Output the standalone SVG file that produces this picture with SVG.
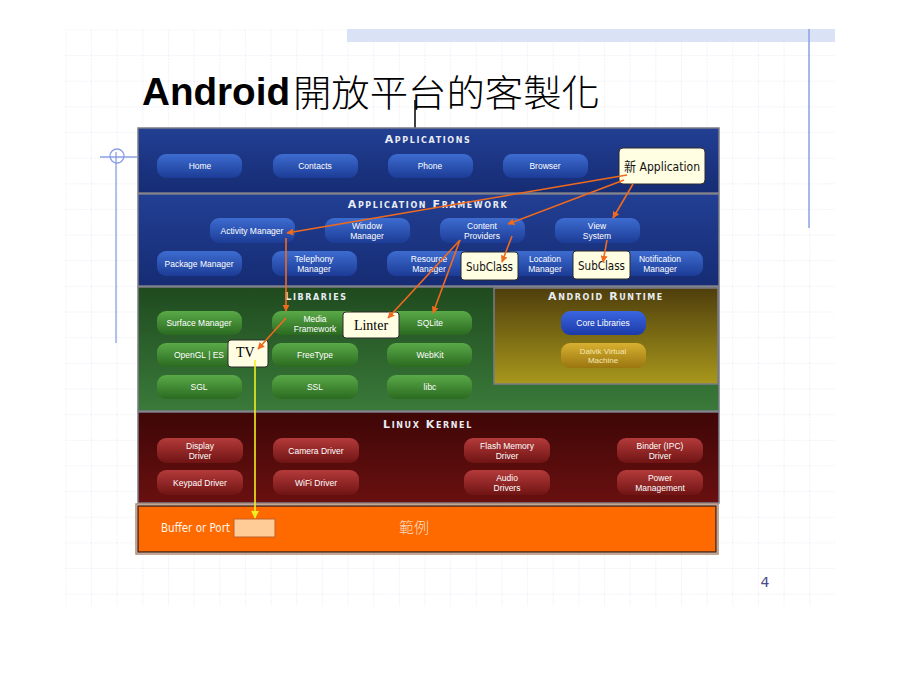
<svg xmlns="http://www.w3.org/2000/svg" width="900" height="675" viewBox="0 0 900 675">
<defs>
<linearGradient id="gBlueLayer" x1="0" y1="0" x2="0" y2="1"><stop offset="0" stop-color="#223f93"/><stop offset="1" stop-color="#162c74"/></linearGradient>
<linearGradient id="gGreenLayer" x1="0" y1="0" x2="0" y2="1"><stop offset="0" stop-color="#1f4a1f"/><stop offset="1" stop-color="#3a7a3a"/></linearGradient>
<linearGradient id="gOlive" x1="0" y1="0" x2="0" y2="1"><stop offset="0" stop-color="#4e3e0c"/><stop offset="1" stop-color="#a8981c"/></linearGradient>
<linearGradient id="gRedLayer" x1="0" y1="0" x2="0" y2="1"><stop offset="0" stop-color="#3e0606"/><stop offset="1" stop-color="#6a1010"/></linearGradient>
<linearGradient id="gBlueBtn" x1="0" y1="0" x2="0" y2="1"><stop offset="0" stop-color="#3d6cd0"/><stop offset="1" stop-color="#1c3c96"/></linearGradient>
<linearGradient id="gGreenBtn" x1="0" y1="0" x2="0" y2="1"><stop offset="0" stop-color="#5aaa48"/><stop offset="1" stop-color="#2a6a20"/></linearGradient>
<linearGradient id="gRedBtn" x1="0" y1="0" x2="0" y2="1"><stop offset="0" stop-color="#b43a3a"/><stop offset="1" stop-color="#701414"/></linearGradient>
<linearGradient id="gCoreBtn" x1="0" y1="0" x2="0" y2="1"><stop offset="0" stop-color="#3a66e0"/><stop offset="1" stop-color="#1c3aa8"/></linearGradient>
<linearGradient id="gGoldBtn" x1="0" y1="0" x2="0" y2="1"><stop offset="0" stop-color="#d8b030"/><stop offset="1" stop-color="#9a7610"/></linearGradient>
<pattern id="grid" x="65.4" y="29.4" width="25.65" height="25.65" patternUnits="userSpaceOnUse">
<path d="M0,0 H25.65 M0,0 V25.65" fill="none" stroke="#e6e8f4" stroke-width="1" stroke-dasharray="2,1"/>
</pattern>
<marker id="ah" viewBox="0 0 10 10" refX="9" refY="5" markerWidth="7" markerHeight="7" orient="auto" markerUnits="userSpaceOnUse"><path d="M0,0 L10,5 L0,10 z" fill="#f06a1e"/></marker>
<marker id="ahy" viewBox="0 0 10 10" refX="9" refY="5" markerWidth="8" markerHeight="8" orient="auto" markerUnits="userSpaceOnUse"><path d="M0,0 L10,5 L0,10 z" fill="#f0f020"/></marker>
</defs>
<style>
.hdr{font-family:"DejaVu Sans","Liberation Sans",sans-serif;font-weight:bold;font-variant:small-caps;font-size:11px;letter-spacing:1.6px;fill:#e8ecf4;text-anchor:middle}
.bt{font-family:"Liberation Sans","DejaVu Sans",sans-serif;font-size:8.5px;fill:#ffffff;text-anchor:middle}
.btd{font-family:"Liberation Sans","DejaVu Sans",sans-serif;font-size:8px;fill:#f4e8b0;text-anchor:middle}
.layer{stroke:#7c7c88;stroke-width:1.5}
.box{fill:#fffde2;stroke:#2a2a2a;stroke-width:1}
.cond{font-family:"DejaVu Sans","Liberation Sans",sans-serif;font-stretch:condensed;fill:#111}
.ser{font-family:"Liberation Serif","Times New Roman",serif;font-size:14px;fill:#000}
.conn{fill:none;stroke:#f06a1e;stroke-width:1.6}
</style>
<rect width="900" height="675" fill="#ffffff"/>
<rect x="65.4" y="29.4" width="769.5" height="577" fill="url(#grid)"/>
<rect x="347" y="29" width="488" height="13" fill="#dae2f6"/>
<line x1="809" y1="29" x2="809" y2="228" stroke="#8aa0e4" stroke-width="1.5"/>
<g id="ornament" fill="none" stroke="#8aa0e4" stroke-width="1.3">
<line x1="100" y1="157" x2="137" y2="157"/>
<circle cx="117" cy="156" r="7"/>
<line x1="116" y1="152" x2="116" y2="343"/>
</g>
<g id="title">
<text x="142" y="105" font-family="'Liberation Sans','DejaVu Sans',sans-serif" font-weight="bold" font-size="38" fill="#000" textLength="148" lengthAdjust="spacingAndGlyphs">Android</text>
<text x="293" y="107" font-family="'Noto Sans CJK TC','Noto Sans CJK SC',sans-serif" font-weight="300" font-size="37" fill="#000" textLength="307" lengthAdjust="spacingAndGlyphs">開放平台的客製化</text>
<line x1="415" y1="100" x2="415" y2="128" stroke="#000" stroke-width="1.5"/>
</g>
<g id="layer-applications">
<rect class="layer" x="138" y="128" width="581" height="65" fill="url(#gBlueLayer)"/>
<text class="hdr" x="428" y="143">Applications</text>
<rect x="157" y="154" width="85" height="24" rx="9" fill="url(#gBlueBtn)"/><text class="bt" x="200" y="169">Home</text>
<rect x="273" y="154" width="85" height="24" rx="9" fill="url(#gBlueBtn)"/><text class="bt" x="315" y="169">Contacts</text>
<rect x="388" y="154" width="85" height="24" rx="9" fill="url(#gBlueBtn)"/><text class="bt" x="430" y="169">Phone</text>
<rect x="503" y="154" width="85" height="24" rx="9" fill="url(#gBlueBtn)"/><text class="bt" x="545" y="169">Browser</text>
</g>
<g id="layer-framework">
<rect class="layer" x="138" y="194" width="581" height="92" fill="url(#gBlueLayer)"/>
<text class="hdr" x="428" y="208">Application Framework</text>
<rect x="210" y="218" width="85" height="25" rx="9" fill="url(#gBlueBtn)"/><text class="bt" x="252" y="234">Activity Manager</text>
<rect x="325" y="218" width="85" height="25" rx="9" fill="url(#gBlueBtn)"/><text class="bt" x="367" y="229">Window</text><text class="bt" x="367" y="239">Manager</text>
<rect x="440" y="218" width="85" height="25" rx="9" fill="url(#gBlueBtn)"/><text class="bt" x="482" y="229">Content</text><text class="bt" x="482" y="239">Providers</text>
<rect x="555" y="218" width="85" height="25" rx="9" fill="url(#gBlueBtn)"/><text class="bt" x="597" y="229">View</text><text class="bt" x="597" y="239">System</text>
<rect x="157" y="251" width="85" height="25" rx="9" fill="url(#gBlueBtn)"/><text class="bt" x="199" y="267">Package Manager</text>
<rect x="272" y="251" width="85" height="25" rx="9" fill="url(#gBlueBtn)"/><text class="bt" x="314" y="262">Telephony</text><text class="bt" x="314" y="272">Manager</text>
<rect x="387" y="251" width="85" height="25" rx="9" fill="url(#gBlueBtn)"/><text class="bt" x="429" y="262">Resource</text><text class="bt" x="429" y="272">Manager</text>
<rect x="503" y="251" width="85" height="25" rx="9" fill="url(#gBlueBtn)"/><text class="bt" x="545" y="262">Location</text><text class="bt" x="545" y="272">Manager</text>
<rect x="618" y="251" width="85" height="25" rx="9" fill="url(#gBlueBtn)"/><text class="bt" x="660" y="262">Notification</text><text class="bt" x="660" y="272">Manager</text>
</g>
<g id="layer-libraries">
<rect class="layer" x="138" y="287" width="581" height="124" fill="url(#gGreenLayer)"/>
<text class="hdr" x="316" y="300">Libraries</text>
<rect x="157" y="311" width="85" height="24" rx="9" fill="url(#gGreenBtn)"/><text class="bt" x="199" y="326">Surface Manager</text>
<rect x="272" y="311" width="86" height="24" rx="9" fill="url(#gGreenBtn)"/><text class="bt" x="315" y="322">Media</text><text class="bt" x="315" y="332">Framework</text>
<rect x="387" y="311" width="85" height="24" rx="9" fill="url(#gGreenBtn)"/><text class="bt" x="430" y="326">SQLite</text>
<rect x="157" y="343" width="85" height="24" rx="9" fill="url(#gGreenBtn)"/><text class="bt" x="199" y="358">OpenGL | ES</text>
<rect x="272" y="343" width="86" height="24" rx="9" fill="url(#gGreenBtn)"/><text class="bt" x="315" y="358">FreeType</text>
<rect x="387" y="343" width="85" height="24" rx="9" fill="url(#gGreenBtn)"/><text class="bt" x="430" y="358">WebKit</text>
<rect x="157" y="375" width="85" height="24" rx="9" fill="url(#gGreenBtn)"/><text class="bt" x="199" y="390">SGL</text>
<rect x="272" y="375" width="86" height="24" rx="9" fill="url(#gGreenBtn)"/><text class="bt" x="315" y="390">SSL</text>
<rect x="387" y="375" width="85" height="24" rx="9" fill="url(#gGreenBtn)"/><text class="bt" x="430" y="390">libc</text>
</g>
<g id="layer-runtime">
<rect class="layer" x="494" y="288" width="224" height="96" fill="url(#gOlive)"/>
<text class="hdr" x="606" y="300">Android Runtime</text>
<rect x="561" y="311" width="85" height="24" rx="9" fill="url(#gCoreBtn)"/><text class="bt" x="603" y="326">Core Libraries</text>
<rect x="561" y="343" width="85" height="25" rx="9" fill="url(#gGoldBtn)"/><text class="btd" x="603" y="354">Dalvik Virtual</text><text class="btd" x="603" y="363">Machine</text>
</g>
<g id="layer-kernel">
<rect class="layer" x="138" y="412" width="581" height="91" fill="url(#gRedLayer)"/>
<text class="hdr" x="428" y="428">Linux Kernel</text>
<rect x="157" y="438" width="86" height="25" rx="9" fill="url(#gRedBtn)"/><text class="bt" x="200" y="449">Display</text><text class="bt" x="200" y="459">Driver</text>
<rect x="273" y="438" width="86" height="25" rx="9" fill="url(#gRedBtn)"/><text class="bt" x="316" y="454">Camera Driver</text>
<rect x="464" y="438" width="86" height="25" rx="9" fill="url(#gRedBtn)"/><text class="bt" x="507" y="449">Flash Memory</text><text class="bt" x="507" y="459">Driver</text>
<rect x="617" y="438" width="86" height="25" rx="9" fill="url(#gRedBtn)"/><text class="bt" x="660" y="449">Binder (IPC)</text><text class="bt" x="660" y="459">Driver</text>
<rect x="157" y="470" width="86" height="25" rx="9" fill="url(#gRedBtn)"/><text class="bt" x="200" y="486">Keypad Driver</text>
<rect x="273" y="470" width="86" height="25" rx="9" fill="url(#gRedBtn)"/><text class="bt" x="316" y="486">WiFi Driver</text>
<rect x="464" y="470" width="86" height="25" rx="9" fill="url(#gRedBtn)"/><text class="bt" x="507" y="481">Audio</text><text class="bt" x="507" y="491">Drivers</text>
<rect x="617" y="470" width="86" height="25" rx="9" fill="url(#gRedBtn)"/><text class="bt" x="660" y="481">Power</text><text class="bt" x="660" y="491">Management</text>
</g>
<g id="layer-hardware">
<rect x="136" y="504" width="582" height="50" fill="none" stroke="#b08870" stroke-width="1.5"/>
<rect x="138" y="506" width="578" height="46" fill="#ff6a00" stroke="#4a2a1a" stroke-width="1.5"/>
<text x="161" y="532" font-family="'DejaVu Sans','Liberation Sans',sans-serif" font-size="12" fill="#fff4e8" textLength="69" lengthAdjust="spacingAndGlyphs">Buffer or Port</text>
<rect x="234" y="519" width="41" height="18" fill="#ffcc98" stroke="#c0602a" stroke-width="1"/>
<text x="399" y="533" font-family="'Noto Sans CJK TC','Noto Sans CJK SC',sans-serif" font-weight="300" font-size="15" fill="#f8dcc0">範例</text>
</g>
<g id="node-new-application">
<rect class="box" x="619" y="148" width="86" height="36" rx="4"/>
<text class="cond" x="624" y="171" font-size="13" textLength="76" lengthAdjust="spacingAndGlyphs"><tspan font-family="'Noto Sans CJK TC',sans-serif">新</tspan> Application</text>
</g>
<g id="node-subclass-1">
<rect class="box" x="461" y="252" width="57" height="28" rx="3"/>
<text class="cond" x="489.5" y="271" font-size="13" text-anchor="middle" textLength="47" lengthAdjust="spacingAndGlyphs">SubClass</text>
</g>
<g id="node-subclass-2">
<rect class="box" x="573" y="251" width="57" height="28" rx="3"/>
<text class="cond" x="601.5" y="270" font-size="13" text-anchor="middle" textLength="47" lengthAdjust="spacingAndGlyphs">SubClass</text>
</g>
<g id="node-linter">
<rect class="box" x="343" y="312" width="56" height="26" rx="3"/>
<text class="ser" x="371" y="330" text-anchor="middle">Linter</text>
</g>
<g id="node-tv">
<rect class="box" x="228" y="340" width="40" height="27" rx="3"/>
<text class="ser" x="236" y="357">TV</text>
</g>
<g id="connectors">
<path class="conn" d="M627,175 L287,233" marker-end="url(#ah)"/>
<path class="conn" d="M624,180 L508,224" marker-end="url(#ah)"/>
<path class="conn" d="M633,184 L613,218" marker-end="url(#ah)"/>
<path class="conn" d="M512,236 L502,262" marker-end="url(#ah)"/>
<path class="conn" d="M607,240 L603,262" marker-end="url(#ah)"/>
<path class="conn" d="M286,238 L286,311" marker-end="url(#ah)"/>
<path class="conn" d="M286,318 L258,349" marker-end="url(#ah)"/>
<path class="conn" d="M460,240 L388,318" marker-end="url(#ah)"/>
<path class="conn" d="M460,240 L433,313" marker-end="url(#ah)"/>
<path d="M255,360 L255,518" fill="none" stroke="#f0f020" stroke-width="1.6" marker-end="url(#ahy)"/>
</g>
<text x="765" y="587" font-family="'DejaVu Sans','Liberation Sans',sans-serif" font-size="14" fill="#4a4a8a" text-anchor="middle">4</text>
</svg>
